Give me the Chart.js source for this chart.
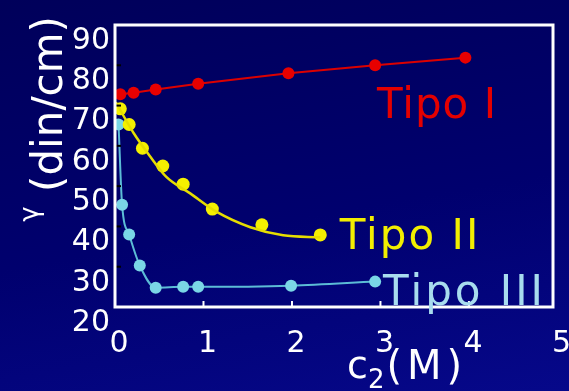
<!DOCTYPE html>
<html>
<head>
<meta charset="utf-8">
<script src="https://cdn.jsdelivr.net/npm/chart.js@4.4.1/dist/chart.umd.min.js"></script>
<style>
  html, body { margin: 0; padding: 0; }
  body {
    width: 569px; height: 391px; overflow: hidden;
    background: linear-gradient(170deg, #00005a 0%, #00006e 55%, #06088a 100%);
  }
  #wrap { position: relative; width: 569px; height: 391px; }
</style>
</head>
<body>
<div id="wrap"><canvas id="chart" width="569" height="391"></canvas></div>
<script>
// axis ticks
const xTicks = [0, 1, 2, 3, 4, 5];
const yTicks = [20, 30, 40, 50, 60, 70, 80, 90];

// Tipo I
const tipo1X = [0.06, 0.21, 0.46, 0.94, 1.96, 2.94, 3.96];
const tipo1Y = [72.8, 73.2, 74.0, 75.4, 78.0, 80.0, 81.9];

// Tipo II measured points
const tipo2X = [0.06, 0.16, 0.31, 0.54, 0.77, 1.10, 1.66, 2.32];
const tipo2Y = [69.2, 65.3, 59.4, 55.0, 50.5, 44.3, 40.4, 37.9];

// Tipo II fitted curve
const tipo2FitX = [0.01, 0.21, 0.40, 0.58, 0.85, 1.15, 1.53, 1.90, 2.32];
const tipo2FitY = [70.8, 63.2, 57.3, 52.3, 48.2, 43.6, 39.8, 37.8, 37.3];

// Tipo III
const tipo3X = [0.04, 0.08, 0.16, 0.28, 0.46, 0.77, 0.94, 1.99, 2.94];
const tipo3Y = [65.3, 45.4, 38.0, 30.3, 24.8, 25.0, 25.0, 25.3, 26.3];

const pts = (xs, ys) => xs.map((x, i) => ({ x: x, y: ys[i] }));

const FONT = 'DejaVu Sans';

const decorations = {
  id: 'decorations',
  afterDatasetsDraw(chart) {
    const { ctx, chartArea: a, scales: { x, y } } = chart;
    ctx.save();

    // little tick marks inside the frame
    ctx.strokeStyle = '#ffffff';
    ctx.lineWidth = 2;
    [1, 2, 3, 4].forEach(v => {
      const px = x.getPixelForValue(v);
      ctx.beginPath();
      ctx.moveTo(px, a.bottom);
      ctx.lineTo(px, a.bottom - 6);
      ctx.stroke();
    });
    ctx.strokeStyle = '#000000';
    yTicks.forEach(v => {
      const py = y.getPixelForValue(v);
      ctx.beginPath();
      ctx.moveTo(a.left, py);
      ctx.lineTo(a.left + 6, py);
      ctx.stroke();
    });

    // white frame
    ctx.strokeStyle = '#ffffff';
    ctx.lineWidth = 3;
    ctx.strokeRect(a.left, a.top, a.right - a.left, a.bottom - a.top);

    // series labels
    ctx.textAlign = 'left';
    ctx.textBaseline = 'alphabetic';
    ctx.font = '42px "' + FONT + '"';
    ctx.letterSpacing = '1px';
    ctx.fillStyle = '#e40000';
    ctx.fillText('Tipo I', x.getPixelForValue(2.96), y.getPixelForValue(67));
    ctx.letterSpacing = '2px';
    ctx.fillStyle = '#f2ee00';
    ctx.fillText('Tipo II', x.getPixelForValue(2.54), y.getPixelForValue(34.5));
    ctx.letterSpacing = '3px';
    ctx.fillStyle = '#a8dcee';
    ctx.fillText('Tipo III', x.getPixelForValue(3.03), y.getPixelForValue(20.5));
    ctx.letterSpacing = '0px';

    // y axis title, rotated
    ctx.fillStyle = '#ffffff';
    ctx.save();
    ctx.translate(62, 104);
    ctx.rotate(-Math.PI / 2);
    ctx.textAlign = 'center';
    ctx.font = '42px "' + FONT + '"';
    ctx.fillText('(din/cm)', 0, 0);
    ctx.restore();
    ctx.save();
    ctx.translate(38, 214);
    ctx.rotate(-Math.PI / 2);
    ctx.textAlign = 'center';
    ctx.font = '26px "' + FONT + '"';
    ctx.fillText('γ', 0, 0);
    ctx.restore();

    // x axis title c2(M)
    let cx = 347;
    ctx.textAlign = 'left';
    ctx.font = '38px "' + FONT + '"';
    ctx.fillText('c', cx, 378);
    cx += ctx.measureText('c').width;
    ctx.font = '26px "' + FONT + '"';
    ctx.fillText('2', cx, 388);
    cx += ctx.measureText('2').width + 2;
    ctx.font = '40px "' + FONT + '"';
    ctx.letterSpacing = '5px';
    ctx.fillText('(M)', cx, 379);
    ctx.letterSpacing = '0px';

    ctx.restore();
  }
};

new Chart(document.getElementById('chart'), {
  type: 'scatter',
  data: {
    datasets: [
      {
        label: 'Tipo I',
        data: pts(tipo1X, tipo1Y),
        showLine: true,
        borderColor: '#dc0000',
        borderWidth: 2,
        pointRadius: 6,
        pointBackgroundColor: '#e80000',
        pointBorderWidth: 0,
        tension: 0
      },
      {
        label: 'Tipo II ajuste',
        data: pts(tipo2FitX, tipo2FitY),
        showLine: true,
        borderColor: '#e6de00',
        borderWidth: 2.5,
        pointRadius: 0,
        cubicInterpolationMode: 'monotone'
      },
      {
        label: 'Tipo II',
        data: pts(tipo2X, tipo2Y),
        showLine: false,
        pointRadius: 6.5,
        pointBackgroundColor: '#f4f000',
        pointBorderWidth: 0
      },
      {
        label: 'Tipo III',
        data: pts(tipo3X, tipo3Y),
        showLine: true,
        borderColor: '#5cbcd6',
        borderWidth: 2,
        pointRadius: 6,
        pointBackgroundColor: '#7ad6e6',
        pointBorderWidth: 0,
        cubicInterpolationMode: 'monotone'
      }
    ]
  },
  options: {
    responsive: false,
    animation: false,
    layout: { padding: { top: 25, right: 16, left: 0, bottom: 0 } },
    plugins: {
      legend: { display: false },
      tooltip: { enabled: false }
    },
    scales: {
      x: {
        type: 'linear',
        min: 0,
        max: 4.95,
        afterBuildTicks: s => { s.ticks = xTicks.map(v => ({ value: v })); },
        afterFit: s => { s.height = 84; s.paddingLeft = 0; s.paddingRight = 0; },
        grid: { display: false, drawTicks: false },
        border: { display: false },
        ticks: {
          color: '#ffffff',
          font: { family: FONT, size: 30 },
          padding: 19,
          labelOffset: 4,
          maxRotation: 0,
          autoSkip: false
        }
      },
      y: {
        min: 20,
        max: 90,
        afterBuildTicks: s => { s.ticks = yTicks.map(v => ({ value: v })); },
        afterFit: s => { s.width = 115; s.paddingTop = 0; s.paddingBottom = 0; },
        grid: { display: false, drawTicks: false },
        border: { display: false },
        ticks: {
          color: '#ffffff',
          font: { family: FONT, size: 30 },
          padding: 5,
          labelOffset: 16,
          autoSkip: false
        }
      }
    }
  },
  plugins: [decorations]
});
</script>
</body>
</html>
